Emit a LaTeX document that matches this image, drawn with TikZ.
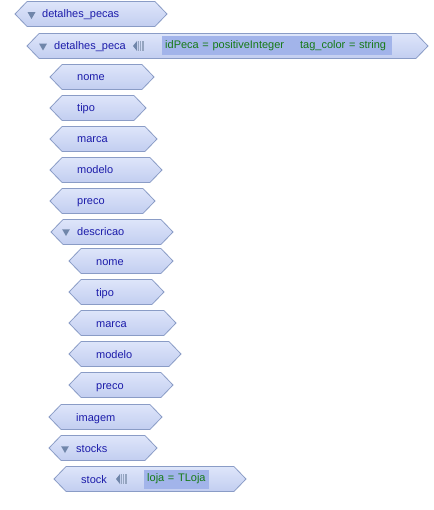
\documentclass[tikz,border=0pt]{standalone}
\usepackage{fontspec}
\setmainfont{Liberation Sans}
\usetikzlibrary{shapes.symbols,shapes.geometric}

\definecolor{elemtopo}{RGB}{222,229,250}
\definecolor{elembase}{RGB}{194,206,240}
\definecolor{elemborda}{RGB}{138,156,198}
\definecolor{elemtexto}{RGB}{28,28,170}
\definecolor{attrfundo}{RGB}{162,180,234}
\definecolor{attrtexto}{RGB}{22,122,22}
\definecolor{iconecor}{RGB}{112,134,170}

\tikzset{
  elemento/.style={signal, signal to=west and east, signal pointer angle=92,
    draw=elemborda, line width=0.8pt, top color=elemtopo, bottom color=elembase,
    minimum height=25pt, inner sep=0pt},
  rotulo/.style={anchor=west, inner sep=0pt, text=elemtexto,
    font=\fontsize{11}{13}\selectfont, text height=8pt, text depth=0pt},
  atributo/.style={anchor=west, fill=attrfundo, text=attrtexto, inner xsep=3pt,
    minimum height=19pt, align=left, font=\fontsize{11}{13}\selectfont},
  expandir/.style={regular polygon, regular polygon sides=3, shape border rotate=180,
    fill=iconecor, inner sep=0pt, minimum size=9pt},
  recolher/.pic={
    \fill[iconecor] (0,0) -- (4,-5) -- (4,5) -- cycle;
    \foreach \b in {5,7.2,9.4} \fill[iconecor!75] (\b,-5) rectangle (\b+1.2,5);
  }
}

\begin{document}
\begin{tikzpicture}[x=1pt,y=-1pt]
  \useasboundingbox (0,0) rectangle (433,510);
  % Elementos
  \foreach \nome/\texto/\esq/\dir/\y/\tx in {
      pecas/detalhes\_pecas/15/167/14/42,
      peca/detalhes\_peca/27/428/46/54,
      nome/nome/50/154/77/77,
      tipo/tipo/50/146/108/77,
      marca/marca/50/157/139/77,
      modelo/modelo/50/162/170/77,
      preco/preco/50/155/201/77,
      descricao/descricao/51/173/232/77,
      dnome/nome/69/173/261/96,
      dtipo/tipo/69/164/292/96,
      dmarca/marca/69/176/323/96,
      dmodelo/modelo/69/181/354/96,
      dpreco/preco/69/173/385/96,
      imagem/imagem/49/162/417/76,
      stocks/stocks/49/157/448/76,
      stock/stock/54/246/479/81} {
    \node[elemento, minimum width={(\dir-\esq)*1pt}] (\nome) at ({(\esq+\dir)/2},\y) {};
    \node[rotulo] (\nome-t) at (\tx,\y) {\texto};
  }
  % Triangulos de expandir
  \foreach \nome/\x/\y in {pecas/31.5/14.5, peca/43/46, descricao/66/231.5, stocks/65/448.5} {
    \node[expandir] (\nome-e) at (\x,\y) {};
  }
  % Atributos
  \pic at (133,46) {recolher};
  \node[atributo, text width=224pt] (peca-a) at (162,46)
    {idPeca = positiveInteger\hspace{16pt}tag\_color = string};
  \pic at (116,479) {recolher};
  \node[atributo, text width=59pt] (stock-a) at (144,479) {loja = TLoja};
\end{tikzpicture}
\end{document}
